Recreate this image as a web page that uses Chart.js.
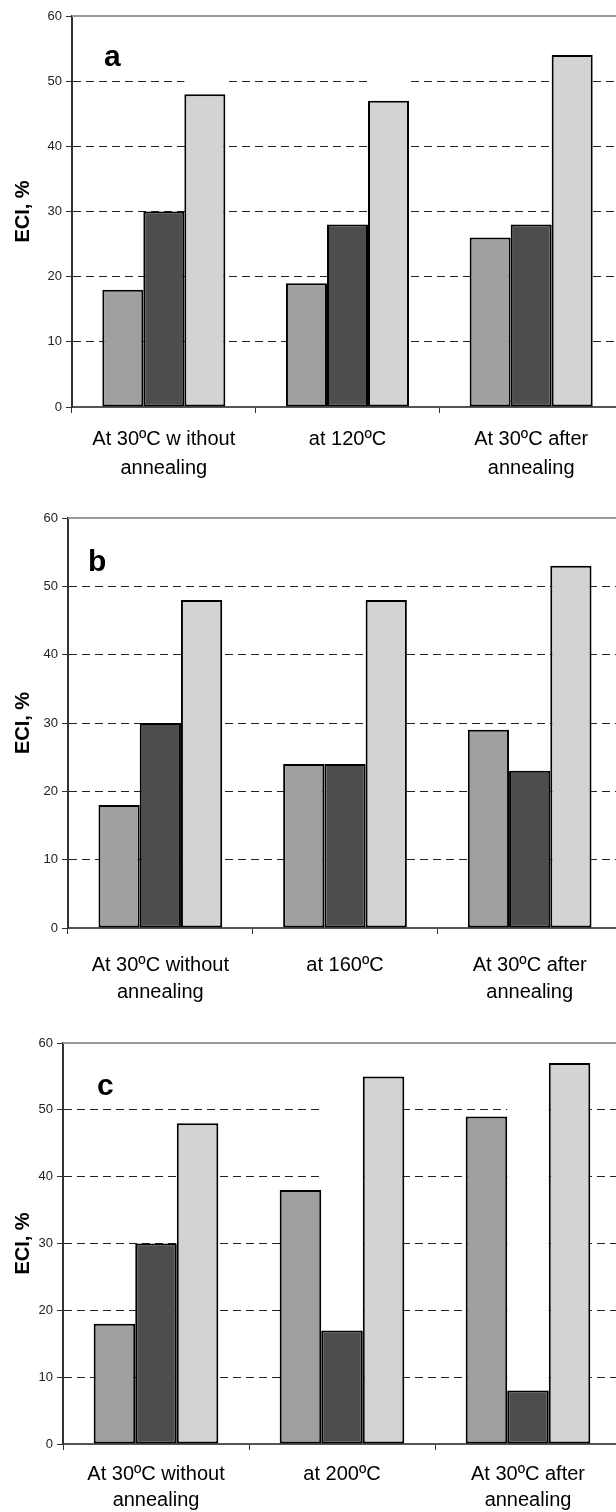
<!DOCTYPE html>
<html>
<head>
<meta charset="utf-8">
<script src="https://cdn.jsdelivr.net/npm/chart.js@4"></script>
<style>
  html, body { margin: 0; padding: 0; background: #fff; overflow: hidden; width: 616px; height: 1512px; }
  canvas { position: absolute; left: 0; }
</style>
</head>
<body>
<canvas id="chartA" width="630" height="500" style="top:0"></canvas>
<canvas id="chartB" width="630" height="510" style="top:500px"></canvas>
<canvas id="chartC" width="630" height="502" style="top:1010px"></canvas>
<script>
// categories
const labelsA = [['At 30ºC w ithout', 'annealing'], 'at 120ºC', ['At 30ºC after', 'annealing']];
const labelsB = [['At 30ºC without', 'annealing'], 'at 160ºC', ['At 30ºC after', 'annealing']];
const labelsC = [['At 30ºC without', 'annealing'], 'at 200ºC', ['At 30ºC after', 'annealing']];

// ECI values, three series per panel
const mediumA = [18, 19, 26];
const darkA   = [30, 28, 28];
const lightA  = [48, 47, 54];

const mediumB = [18, 24, 29];
const darkB   = [30, 24, 23];
const lightB  = [48, 48, 53];

const mediumC = [18, 38, 49];
const darkC   = [30, 17, 8];
const lightC  = [48, 55, 57];

// y axis range
const yMin = 0;
const yMax = 60;
const yStep = 10;

const barColors = ['#a0a0a0', '#4d4d4d', '#d3d3d3'];
const fontFamily = '"Liberation Sans", Arial, sans-serif';

// white strip above selected bars, top frame line and panel letter
const panelDecor = {
  id: 'panelDecor',
  beforeDatasetsDraw(chart, args, opts) {
    const { ctx, chartArea } = chart;
    ctx.save();
    ctx.fillStyle = '#fff';
    (opts.clear || []).forEach(([ds, i]) => {
      const bar = chart.getDatasetMeta(ds).data[i];
      ctx.fillRect(bar.x - bar.width / 2, chartArea.top + 2, bar.width, bar.y - chartArea.top - 2);
    });
    ctx.restore();
  },
  afterDraw(chart, args, opts) {
    const { ctx, chartArea } = chart;
    ctx.save();
    ctx.strokeStyle = '#999';
    ctx.lineWidth = 2;
    ctx.beginPath();
    ctx.moveTo(chartArea.left, chartArea.top);
    ctx.lineTo(chart.width, chartArea.top);
    ctx.stroke();
    ctx.fillStyle = '#000';
    ctx.font = 'bold 30px ' + fontFamily;
    ctx.textBaseline = 'alphabetic';
    ctx.fillText(opts.letter, chartArea.left + opts.dx, chartArea.top + opts.dy);
    ctx.restore();
  }
};

function makePanel(id, labels, medium, dark, light, cfg) {
  const series = [medium, dark, light];
  return new Chart(document.getElementById(id), {
    type: 'bar',
    data: {
      labels,
      datasets: series.map((values, i) => ({
        data: values,
        backgroundColor: barColors[i],
        borderColor: '#000',
        borderWidth: 2,
        borderSkipped: false,
        categoryPercentage: 0.67,
        barPercentage: 1.0
      }))
    },
    options: {
      responsive: false,
      animation: false,
      layout: { padding: { top: cfg.top, right: cfg.right, left: 0, bottom: 0 } },
      plugins: {
        legend: { display: false },
        tooltip: { enabled: false },
        panelDecor: { letter: cfg.letter, dx: cfg.dx, dy: cfg.dy, clear: cfg.clear }
      },
      scales: {
        x: {
          offset: true,
          grid: { display: true, drawOnChartArea: false, drawTicks: true, tickLength: 6, offset: true, color: '#333', lineWidth: 1 },
          border: { display: true, color: '#555', width: 2 },
          ticks: {
            color: '#000',
            font: { family: fontFamily, size: 20, lineHeight: cfg.lineHeight },
            padding: cfg.labelPad,
            maxRotation: 0,
            autoSkip: false
          },
          afterFit: s => { s.height = cfg.xHeight; }
        },
        y: {
          min: yMin,
          max: yMax,
          ticks: { stepSize: yStep, color: '#222', font: { family: fontFamily, size: 13 }, padding: 4 },
          grid: { color: '#222', lineWidth: 1, tickLength: 6, tickColor: '#333', tickBorderDash: [] },
          border: { display: true, color: '#333', width: 2, dash: [8, 5] },
          title: {
            display: true,
            text: 'ECI, %',
            color: '#000',
            font: { family: fontFamily, size: 20, weight: 'bold' },
            padding: { top: 11, bottom: 0 }
          },
          afterFit: s => { s.width = cfg.yWidth; }
        }
      }
    },
    plugins: [panelDecor]
  });
}

makePanel('chartA', labelsA, mediumA, darkA, lightA, {
  letter: 'a', dx: 32, dy: 50, top: 16, right: 7, yWidth: 72, xHeight: 93, labelPad: 12, lineHeight: 1.45,
  clear: [[2, 0], [2, 1]]
});
makePanel('chartB', labelsB, mediumB, darkB, lightB, {
  letter: 'b', dx: 20, dy: 53, top: 18, right: 8, yWidth: 68, xHeight: 82, labelPad: 18, lineHeight: 1.35,
  clear: []
});
makePanel('chartC', labelsC, mediumC, darkC, lightC, {
  letter: 'c', dx: 34, dy: 52, top: 33, right: 9, yWidth: 63, xHeight: 68, labelPad: 11, lineHeight: 1.3,
  clear: [[1, 1], [1, 2]]
});
</script>
</body>
</html>
